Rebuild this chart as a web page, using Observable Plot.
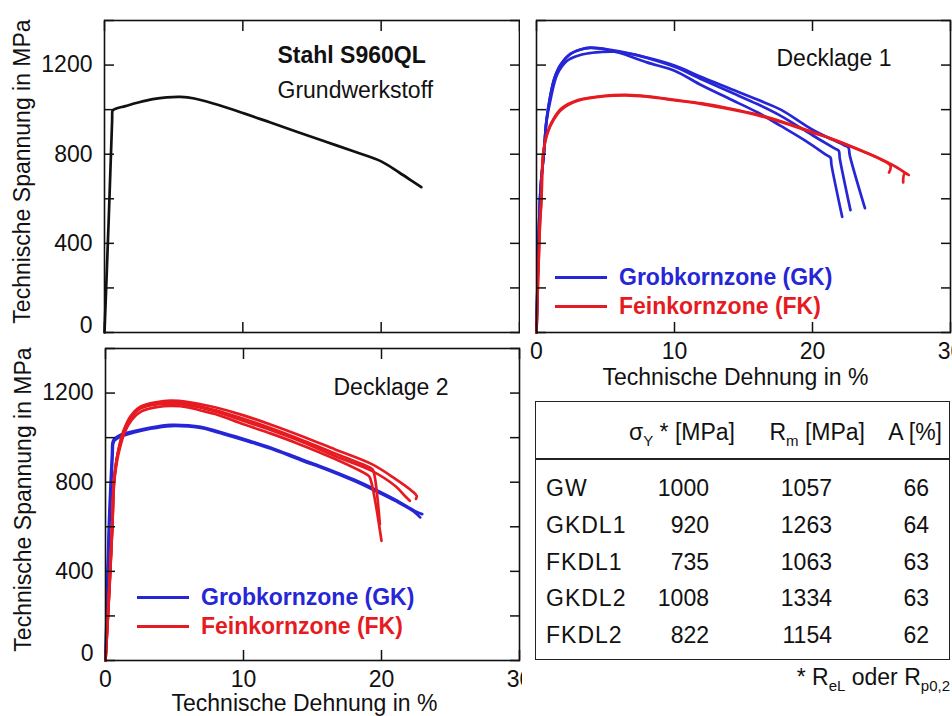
<!DOCTYPE html>
<html><head><meta charset="utf-8">
<script src="https://cdn.jsdelivr.net/npm/d3@7"></script>
<script src="https://cdn.jsdelivr.net/npm/@observablehq/plot@0.6"></script>
<style>
body{margin:0;background:#fff;}
#root{position:relative;width:952px;height:716px;overflow:hidden;font-family:"Liberation Sans",Arial,sans-serif;color:#111;background:#fff;}
.abs{position:absolute;white-space:nowrap;line-height:1;font-size:23px;}
.abs sub{font-size:15px;vertical-align:-6px;line-height:0;}
</style></head><body><div id="root"></div>
<script>
// ---------- data: [strain %, stress MPa] ----------
const gw = [[0,0],[0.3,500],[0.55,950],[0.58,995],[0.64,999],[0.8,1004],[1.5,1016],[2.5,1033],[3.5,1047],[4.5,1055],[5.5,1057],[6.5,1050],[8,1025],[10,985],[12,942],[14,899],[16,856],[18,813],[20,768],[21.3,718],[22.3,677],[22.9,652]];

const dl1_gk1 = [[0,0],[0.3,650],[0.53,800],[0.72,950],[1.0,1060],[1.3,1140],[1.74,1200],[2.46,1250],[3.2,1270],[3.9,1278],[5,1270],[6,1255],[8,1212],[10,1175],[12,1108],[14,1048],[16,988],[17.7,927],[19.5,860],[21.0,797],[21.3,785],[21.38,750],[22.15,519]];
const dl1_gk2 = [[0,0],[0.3,650],[0.53,800],[0.72,945],[1.0,1040],[1.5,1158],[2.2,1218],[3.0,1242],[3.67,1252],[4.6,1258],[5.6,1260],[7,1248],[8,1232],[10,1192],[12,1135],[14,1080],[16,1025],[17.7,972],[20,885],[21.6,826],[21.9,815],[21.98,780],[22.75,549]];
const dl1_gk3 = [[0,0],[0.3,650],[0.53,800],[0.72,950],[1.0,1062],[1.3,1142],[1.74,1202],[2.46,1250],[3.2,1270],[3.9,1277],[5,1272],[6,1262],[8,1234],[10,1198],[12,1145],[14,1095],[16,1045],[17.7,1000],[20,910],[22.3,840],[22.6,830],[22.7,795],[23.8,558]];
const dl1_fk1 = [[0,0],[0.24,470],[0.36,600],[0.48,800],[0.8,900],[1.2,955],[1.8,1005],[3,1043],[4.9,1062],[6.5,1066],[8,1060],[10,1044],[12,1028],[14,1005],[16,978],[17.7,948],[20,900],[21.3,872],[22.75,837],[24.9,778],[25.65,748],[25.55,718]];
const dl1_fk2 = [[0,0],[0.24,470],[0.36,600],[0.48,800],[0.8,895],[1.2,950],[1.8,1000],[3,1040],[4.9,1060],[6.5,1064],[8,1058],[10,1042],[12,1025],[14,1002],[16,975],[17.7,945],[20,897],[21.3,870],[22.75,835],[24.9,780],[26,745],[26.67,718],[26.98,707],[26.67,713],[26.57,673]];

const dl2_gk1 = [[0,0],[0.24,600],[0.47,930],[0.5,975],[0.58,990],[0.7,998],[1.0,1010],[2,1028],[3.27,1045],[4.73,1057],[6,1055],[6.9,1048],[8.5,1022],[10.5,985],[12,955],[14.2,903],[16,862],[18,812],[19.5,769],[21,722],[22.6,665],[22.95,657]];
const dl2_gk2 = [[0,0],[0.28,600],[0.52,925],[0.55,970],[0.63,985],[0.75,992],[1.1,1005],[2,1022],[3.27,1040],[4.73,1052],[6,1050],[7,1042],[8.5,1017],[10.5,980],[12,950],[14.2,898],[16,857],[18,806],[19.5,763],[21,716],[22.3,670],[22.8,642]];
const dl2_fk1 = [[0,0],[0.25,300],[0.48,600],[0.6,800],[0.8,900],[1.0,965],[1.33,1035],[1.8,1095],[2.5,1138],[3.75,1160],[4.7,1166],[6,1160],[6.9,1150],[8,1135],[10,1100],[12,1058],[14,1012],[16.6,948],[19.3,881],[21,815],[22.2,761],[22.55,739],[22.5,725]];
const dl2_fk2 = [[0,0],[0.26,300],[0.49,600],[0.61,800],[0.82,905],[1.02,962],[1.36,1033],[1.85,1090],[2.55,1132],[3.8,1150],[4.75,1152],[6,1146],[6.9,1134],[8,1116],[10,1075],[12,1033],[14,987],[16.6,918],[19.3,851],[21,783],[21.7,738],[22.05,717]];
const dl2_fk3 = [[0,0],[0.27,300],[0.5,600],[0.63,800],[0.85,900],[1.05,955],[1.4,1025],[1.9,1080],[2.6,1118],[3.8,1138],[4.8,1142],[6,1136],[6.9,1122],[8,1105],[10,1060],[12,1018],[14,972],[16.6,905],[19.0,832],[19.15,822],[20.0,537]];
const dl2_fk4 = [[0,0],[0.26,300],[0.49,600],[0.62,800],[0.82,905],[1.02,960],[1.36,1032],[1.85,1090],[2.55,1134],[3.8,1155],[4.7,1159],[6,1153],[6.9,1140],[8,1123],[10,1085],[12,1042],[14,995],[16.6,930],[19.25,862],[19.4,852],[19.88,612]];

// axes / ticks
const xTicks = [0, 10, 20, 30];
const yTicks = [0, 200, 400, 600, 800, 1000, 1200, 1400];
const yLabels = [400, 800, 1200];

// table
const tableRows = ["GW", "GKDL1", "FKDL1", "GKDL2", "FKDL2"];
const sigmaY = [1000, 920, 735, 1008, 822];
const Rm = [1057, 1263, 1063, 1334, 1154];
const A = [66, 64, 63, 63, 62];

// legend
const legendItems = ["Grobkornzone (GK)", "Feinkornzone (FK)"];

const BLUE = "#2626d6", RED = "#e61b22", BLACK = "#111";
const FONT = '"Liberation Sans", Arial, sans-serif';

function rows(curves) {
  return curves.flatMap((c, i) => c.map(([x, y]) => ({x, y, id: i})));
}

function panel({width, height, ml, mr, mt, mb, groups, showX, showY, notes}) {
  const marks = [];
  for (const g of groups) {
    marks.push(Plot.line(rows(g.curves), {x: "x", y: "y", z: "id", stroke: g.color, strokeWidth: 2.7, strokeLinejoin: "round", strokeLinecap: "round", curve: "catmull-rom"}));
  }
  marks.push(Plot.frame({stroke: BLACK, strokeWidth: 1.6}));
  marks.push(Plot.axisY(yTicks, {anchor: "left", tickSize: -10, tickFormat: () => "", label: null, stroke: BLACK, strokeWidth: 1.5}));
  marks.push(Plot.axisY(yTicks, {anchor: "right", tickSize: -10, tickFormat: () => "", label: null, stroke: BLACK, strokeWidth: 1.5}));
  marks.push(Plot.axisX(xTicks, {anchor: "top", tickSize: -10, tickFormat: () => "", label: null, stroke: BLACK, strokeWidth: 1.5}));
  marks.push(Plot.axisX(xTicks, {anchor: "bottom", tickSize: -10, tickFormat: () => "", label: null, stroke: BLACK, strokeWidth: 1.5}));
  if (showY) {
    marks.push(Plot.axisY(yLabels, {anchor: "left", tickSize: 0, tickPadding: 12, label: null, fill: BLACK, tickFormat: d => String(d)}));
    marks.push(Plot.axisY([0], {anchor: "left", tickSize: 0, tickPadding: 12, label: null, dy: -7, fill: BLACK, tickFormat: d => String(d)}));
    marks.push(Plot.text(["Technische Spannung in MPa"], {frameAnchor: "left", rotate: -90, dx: -82, dy: -5, text: d => d, textAnchor: "middle", lineAnchor: "middle", fill: BLACK}));
  }
  if (showX) {
    marks.push(Plot.axisX(xTicks, {anchor: "bottom", tickSize: 0, tickPadding: 10, label: null, fill: BLACK, tickFormat: d => String(d)}));
    marks.push(Plot.text(["Technische Dehnung in %"], {frameAnchor: "bottom", dx: -8, dy: showX, text: d => d, textAnchor: "middle", lineAnchor: "middle", fill: BLACK}));
  }
  for (const n of notes) {
    marks.push(Plot.text([n.text], {frameAnchor: "top-left", dx: n.dx, dy: n.dy, text: d => d, textAnchor: "start", lineAnchor: "middle", fontWeight: n.bold ? "bold" : "normal", fill: BLACK}));
  }
  return Plot.plot({
    width, height, marginLeft: ml, marginRight: mr, marginTop: mt, marginBottom: mb,
    x: {domain: [0, 30]},
    y: {domain: [0, 1400]},
    style: {fontFamily: FONT, fontSize: "23px", overflow: "hidden", background: "transparent", color: BLACK},
    marks
  });
}

const root = document.getElementById("root");
function addAt(el, left, top) {
  el.style.position = "absolute";
  el.style.left = left + "px";
  el.style.top = top + "px";
  root.appendChild(el);
}
function place(html, x, y, align = "left", extra = "") {
  const d = document.createElement("div");
  d.className = "abs";
  d.innerHTML = html;
  d.style.top = y + "px";
  if (align === "left") { d.style.left = x + "px"; d.style.transform = "translateY(-50%)"; }
  else { d.style.right = (952 - x) + "px"; d.style.transform = "translateY(-50%)"; }
  if (extra) d.style.cssText += extra;
  root.appendChild(d);
  return d;
}
function box(left, top, w, h, css) {
  const d = document.createElement("div");
  d.style.cssText = `position:absolute;left:${left}px;top:${top}px;width:${w}px;height:${h}px;${css}`;
  root.appendChild(d);
}

// Top-left: Grundwerkstoff
addAt(panel({width: 520, height: 340, ml: 104, mr: 1, mt: 20, mb: 8,
  groups: [{curves: [gw], color: BLACK}], showX: 0, showY: true,
  notes: [{text: "Stahl S960QL", dx: 173, dy: 35, bold: true}, {text: "Grundwerkstoff", dx: 173, dy: 70}]}), 0, 0);

// Top-right: Decklage 1
addAt(panel({width: 432, height: 390, ml: 16, mr: 2, mt: 20, mb: 58,
  groups: [{curves: [dl1_gk1, dl1_gk2, dl1_gk3], color: BLUE}, {curves: [dl1_fk1, dl1_fk2], color: RED}],
  showX: 45, showY: false,
  notes: [{text: "Decklage 1", dx: 240, dy: 38}]}), 520, 0);

// Bottom-left: Decklage 2
addAt(panel({width: 522, height: 376, ml: 105, mr: 3, mt: 8, mb: 56,
  groups: [{curves: [dl2_gk1, dl2_gk2], color: BLUE}, {curves: [dl2_fk1, dl2_fk2, dl2_fk3, dl2_fk4], color: RED}],
  showX: 43, showY: true,
  notes: [{text: "Decklage 2", dx: 228, dy: 39}]}), 0, 340);

// Legends
function legend(x0, y0) {
  const colors = [BLUE, RED];
  legendItems.forEach((t, i) => {
    const y = y0 + i * 29;
    box(x0, y - 1.5, 52, 3, `background:${colors[i]}`);
    place(t, x0 + 64, y, "left", `font-weight:bold;color:${colors[i]};`);
  });
}
legend(555, 277);
legend(137, 597);

// Table
box(535, 401, 415, 259, "border:1.6px solid #222;box-sizing:border-box;");
box(535, 458, 415, 2, "background:#222;");
place("σ<sub>Y</sub> * [MPa]", 735, 432, "right");
place("R<sub>m</sub> [MPa]", 865, 432, "right");
place("A [%]", 942, 432, "right");
const rowY = [488, 525, 562, 598, 635];
tableRows.forEach((r, i) => {
  place(r, 546, rowY[i], "left", "letter-spacing:1px;");
  place(String(sigmaY[i]), 709, rowY[i], "right");
  place(String(Rm[i]), 832, rowY[i], "right");
  place(String(A[i]), 929, rowY[i], "right");
});
place("* R<sub>eL</sub> oder R<sub>p0,2</sub>", 950, 677, "right");
</script>
</body></html>
